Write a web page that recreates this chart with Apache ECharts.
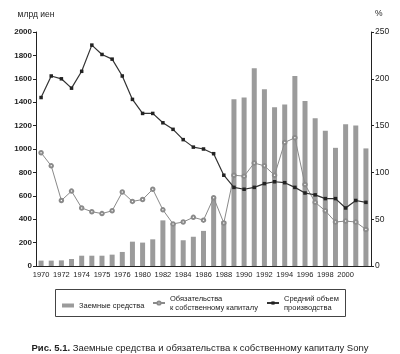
<!DOCTYPE html>
<html>
<head>
<meta charset="utf-8">
<script src="https://cdn.jsdelivr.net/npm/echarts@6/dist/echarts.min.js"></script>
<style>
  html, body { margin: 0; padding: 0; background: #fff; }
  #chart { width: 400px; height: 354px; }
</style>
</head>
<body>
<div id="chart"></div>
<script>
// years on the category axis, 1970..2002
const years = ['1970', '1971', '1972', '1973', '1974', '1975', '1976', '1977', '1978', '1979',
  '1980', '1981', '1982', '1983', '1984', '1985', '1986', '1987', '1988', '1989',
  '1990', '1991', '1992', '1993', '1994', '1995', '1996', '1997', '1998', '1999',
  '2000', '2001', '2002']
// labels as printed under every second bar
const tickLabels = ['1970', '1972', '1974', '1975', '1976', '1980', '1982', '1984',
  '1986', '1988', '1990', '1992', '1994', '1996', '1998', '2000']

// млрд иен, left axis
const borrowed = [46, 46, 48, 60, 88, 88, 88, 97, 120, 208, 200, 228, 390, 365, 220, 250, 300,
  580, 383, 1425, 1440, 1690, 1510, 1356, 1380, 1624, 1410, 1262, 1155, 1010, 1211, 1200, 1005]
// %, right axis
const debtToEquity = [121, 107, 70, 80, 62, 58, 56, 59, 79, 69, 71, 82, 60, 45, 47, 52, 49,
  73, 46, 97, 96, 110, 107, 97, 132, 137, 87, 68, 59, 47, 48, 47, 39]
const avgOutput = [180, 203, 200, 190, 208, 236, 226, 221, 203, 178, 163, 163, 153, 146, 135, 127, 125,
  120, 97, 84, 82, 84, 88, 90, 89, 84, 78, 76, 72, 72, 62, 70, 68]

const names = ['Заемные средства', 'Обязательства\nк собственному капиталу', 'Средний объем\nпроизводства']

const font = '"Liberation Sans Narrow", "Liberation Sans", sans-serif'
const ink = '#222'

const legendText = { fontFamily: font, fontSize: 7.5, lineHeight: 9, color: ink }
const legendBase = { itemWidth: 12, itemHeight: 4, itemGap: 0, padding: 0, textStyle: legendText }

const chart = echarts.init(document.getElementById('chart'))

chart.setOption({
  backgroundColor: '#fff',
  animation: false,
  textStyle: { fontFamily: font },
  grid: { left: 36, right: 29, top: 32, bottom: 88 },
  title: {
    text: '{b|Рис. 5.1.} Заемные средства и обязательства к собственному капиталу Sony',
    left: 'center',
    top: 338,
    textStyle: {
      fontFamily: font,
      fontSize: 9.5,
      fontWeight: 'normal',
      color: ink,
      rich: { b: { fontFamily: font, fontSize: 9.5, fontWeight: 'bold', color: ink } }
    }
  },
  graphic: [{
    type: 'rect',
    shape: { x: 55.5, y: 289.5, width: 290, height: 27 },
    style: { fill: 'none', stroke: '#444', lineWidth: 1 }
  }],
  legend: [
    Object.assign({ left: 62, top: 301, data: [{ name: names[0], icon: 'rect' }] }, legendBase),
    Object.assign({ left: 152, top: 294, data: [names[1]] }, legendBase),
    Object.assign({ left: 266, top: 294, data: [names[2]] }, legendBase)
  ],
  xAxis: {
    type: 'category',
    data: years,
    axisLine: { lineStyle: { color: ink, width: 1 } },
    axisTick: { alignWithLabel: true, interval: 1, length: 3, lineStyle: { color: ink } },
    axisLabel: {
      interval: 0,
      fontSize: 7.5,
      color: ink,
      margin: 5,
      formatter: (v, i) => (i % 2 === 0 ? tickLabels[i / 2] : '')
    }
  },
  yAxis: [
    {
      type: 'value',
      min: 0,
      max: 2000,
      interval: 200,
      name: 'млрд иен',
      nameGap: 13,
      nameTextStyle: { fontFamily: font, fontSize: 8.5, color: ink, align: 'center' },
      axisLine: { show: true, lineStyle: { color: ink } },
      axisTick: { show: true, length: 3, lineStyle: { color: ink } },
      axisLabel: { fontSize: 8, fontWeight: 'bold', color: ink, margin: 4, formatter: v => String(v) },
      splitLine: { show: false }
    },
    {
      type: 'value',
      min: 0,
      max: 250,
      interval: 50,
      name: '%',
      nameGap: 14,
      nameTextStyle: { fontFamily: font, fontSize: 8.5, color: ink, align: 'left', padding: [0, 0, 0, 4] },
      axisLine: { show: true, lineStyle: { color: ink } },
      axisTick: { show: true, length: 3, lineStyle: { color: ink } },
      axisLabel: { fontSize: 8.5, color: ink, margin: 4 },
      splitLine: { show: false }
    }
  ],
  series: [
    {
      name: names[0],
      type: 'bar',
      data: borrowed,
      barWidth: 5,
      itemStyle: { color: '#9b9b9b' }
    },
    {
      name: names[1],
      type: 'line',
      yAxisIndex: 1,
      data: debtToEquity,
      symbol: 'emptyCircle',
      symbolSize: 3.5,
      lineStyle: { color: '#8a8a8a', width: 1 },
      itemStyle: { color: '#8a8a8a', borderWidth: 1 }
    },
    {
      name: names[2],
      type: 'line',
      yAxisIndex: 1,
      data: avgOutput,
      symbol: 'rect',
      symbolSize: 3.5,
      lineStyle: { color: '#333', width: 1.2 },
      itemStyle: { color: '#222' }
    }
  ]
})
</script>
</body>
</html>
